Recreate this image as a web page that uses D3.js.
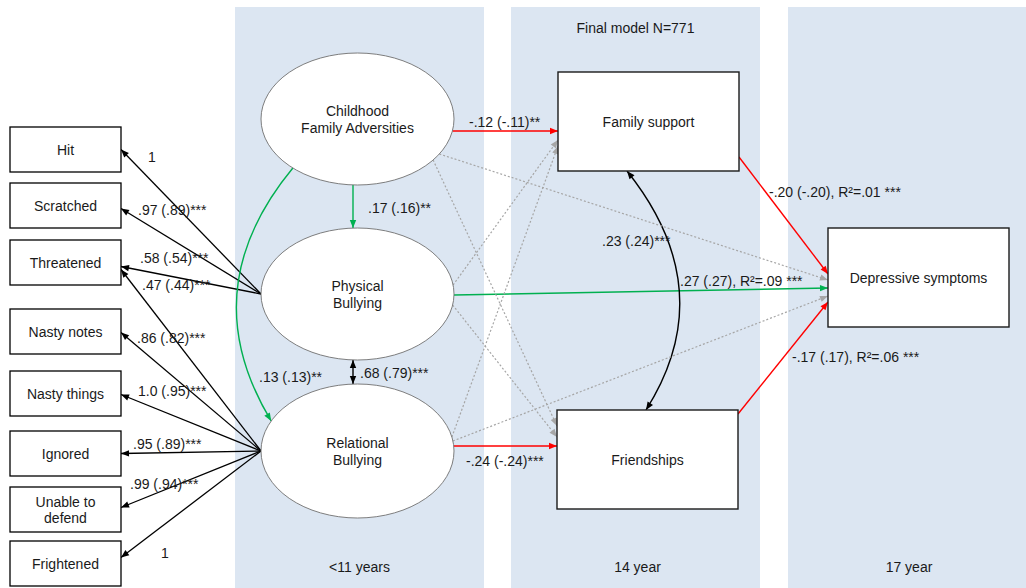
<!DOCTYPE html>
<html>
<head>
<meta charset="utf-8">
<script src="https://cdn.jsdelivr.net/npm/d3@7"></script>
<style>
  body { margin: 0; background: #fff; }
  text { font-family: "Liberation Sans", Arial, sans-serif; font-size: 14px; fill: #1a1a1a; }
</style>
</head>
<body>
<div id="wrapper"></div>
<script>
// ---- data ----
const title = "Final model N=771"
const periods = ["<11 years", "14 year", "17 year"]

const indicators = ["Hit", "Scratched", "Threatened", "Nasty notes", "Nasty things", "Ignored", "Unable to defend", "Frightened"]

// factor loadings: indicator, factor, label
const loadingIndicator = ["Hit", "Scratched", "Threatened", "Threatened", "Nasty notes", "Nasty things", "Ignored", "Unable to defend", "Frightened"]
const loadingFactor = ["PB", "PB", "PB", "RB", "RB", "RB", "RB", "RB", "RB"]
const loadingLabel = ["1", ".97 (.89)***", ".58 (.54)***", ".47 (.44)***", ".86 (.82)***", "1.0 (.95)***", ".95 (.89)***", ".99 (.94)***", "1"]

const latentIds = ["CFA", "PB", "RB"]
const latentNames = [["Childhood", "Family Adversities"], ["Physical", "Bullying"], ["Relational", "Bullying"]]
const observedIds = ["FS", "FR", "DS"]
const observedNames = ["Family support", "Friendships", "Depressive symptoms"]

// structural paths: from, to, label, kind (pos / neg / cov / ns)
const pathFrom  = ["CFA", "CFA", "PB", "CFA", "RB", "PB", "FS", "FR", "FS", "CFA", "CFA", "PB", "PB", "RB", "RB"]
const pathTo    = ["PB", "RB", "RB", "FS", "FR", "DS", "DS", "DS", "FR", "DS", "FR", "FS", "FR", "FS", "DS"]
const pathLabel = [".17 (.16)**", ".13 (.13)**", ".68 (.79)***", "-.12 (-.11)**", "-.24 (-.24)***",
  ".27 (.27), R\u00b2=.09 ***", "-.20 (-.20), R\u00b2=.01 ***", "-.17 (.17), R\u00b2=.06 ***", ".23 (.24)***",
  "", "", "", "", "", ""]
const pathKind  = ["pos", "pos", "cov", "neg", "neg", "pos", "neg", "neg", "cov", "ns", "ns", "ns", "ns", "ns", "ns"]

// ---- layout ----
const width = 1026, height = 588
const bands = [[235, 484], [511, 760], [788, 1026]]
const bandTop = 7
const periodY = 567
const textDy = 1.5

const indBox = { x: 10, w: 111, h: 45 }
const indTop = [127, 183, 240, 309, 371, 431, 487, 541]

const ellipses = {
  CFA: { cx: 357.5, cy: 119, rx: 96.5, ry: 66 },
  PB:  { cx: 357.5, cy: 294, rx: 96.5, ry: 66 },
  RB:  { cx: 357.5, cy: 451, rx: 96.5, ry: 67 }
}
const boxes = {
  FS: { x: 558, y: 72, w: 181, h: 99 },
  FR: { x: 557, y: 410, w: 181, h: 99 },
  DS: { x: 828, y: 228, w: 181, h: 99 }
}

// loading arrow end offsets (y into indicator box) and label anchors
const loadingEndDy = [0, 3, 4, 7, 1, 1, 0, -2, -6]
const loadingLabelPos = [[148, 157], [138, 210], [140, 258], [142, 285], [137, 338], [138, 391], [133, 444], [130, 484], [161, 553]]

// anchors: [side, coordinate] for source and target
const pathAnchors = [
  [["b", 353], ["t", 353]],
  [["l", 168], ["l", 421]],
  [["b", 353], ["t", 353]],
  [["r", 131], ["l", 131]],
  [["r", 446], ["l", 446]],
  [["r", 295], ["l", 288]],
  [["r", 157], ["l", 274]],
  [["r", 414], ["l", 302]],
  [["b", 627], ["t", 646]],
  [["r", 154], ["l", 280]],
  [["r", 160], ["l", 426]],
  [["r", 285], ["l", 140]],
  [["r", 305], ["l", 437]],
  [["r", 437], ["l", 146]],
  [["r", 441], ["l", 296]]
]
const pathCurve = { 1: [192, 290], 8: [722, 290] }
const pathLabelPos = [[368, 208], [259, 377], [360, 373], [469, 122], [466, 461], [680, 281], [769, 192], [792, 357], [602, 241]]

const colors = { pos: "#00b050", neg: "#ff0000", cov: "#000000", ns: "#a6a6a6", load: "#000000" }

// ---- helpers ----
function anchorPoint(id, side, v) {
  if (ellipses[id]) {
    const e = ellipses[id]
    if (side === "l" || side === "r") {
      const t = (v - e.cy) / e.ry
      const dx = e.rx * Math.sqrt(Math.max(0, 1 - t * t))
      return [side === "r" ? e.cx + dx : e.cx - dx, v]
    }
    const t = (v - e.cx) / e.rx
    const dy = e.ry * Math.sqrt(Math.max(0, 1 - t * t))
    return [v, side === "b" ? e.cy + dy : e.cy - dy]
  }
  const b = boxes[id]
  if (side === "l") return [b.x, v]
  if (side === "r") return [b.x + b.w, v]
  if (side === "t") return [v, b.y]
  return [v, b.y + b.h]
}

// ---- drawing ----
const svg = d3.select("#wrapper").append("svg").attr("width", width).attr("height", height)

const defs = svg.append("defs")
Object.entries(colors).forEach(([k, c]) => {
  defs.append("marker")
    .attr("id", "arrow-" + k)
    .attr("viewBox", "0 -5 10 10")
    .attr("refX", 10)
    .attr("refY", 0)
    .attr("markerWidth", k === "ns" ? 9 : 10)
    .attr("markerHeight", 8)
    .attr("markerUnits", "userSpaceOnUse")
    .attr("orient", "auto-start-reverse")
    .append("path")
    .attr("d", "M0,-4L10,0L0,4Z")
    .attr("fill", c)
})

// background bands
svg.append("g").selectAll("rect")
  .data(bands)
  .join("rect")
  .attr("x", d => d[0])
  .attr("y", bandTop)
  .attr("width", d => d[1] - d[0])
  .attr("height", height - bandTop)
  .attr("fill", "#dce6f2")

svg.append("g").selectAll("text")
  .data(periods)
  .join("text")
  .attr("x", (d, i) => (bands[i][0] + bands[i][1]) / 2 + (i === 0 ? 0 : 2))
  .attr("y", periodY + textDy)
  .attr("text-anchor", "middle")
  .attr("dominant-baseline", "middle")
  .text(d => d)

svg.append("text")
  .attr("x", (bands[1][0] + bands[1][1]) / 2)
  .attr("y", 28 + textDy)
  .attr("text-anchor", "middle")
  .attr("dominant-baseline", "middle")
  .text(title)

// indicator y positions
const indY = d3.scaleOrdinal().domain(indicators).range(indTop)

// loading arrows
const lineGen = d3.line()
svg.append("g").selectAll("path")
  .data(loadingIndicator)
  .join("path")
  .attr("d", (d, i) => {
    const src = anchorPoint(loadingFactor[i], "l", ellipses[loadingFactor[i]].cy)
    const tgt = [indBox.x + indBox.w, indY(d) + indBox.h / 2 + loadingEndDy[i]]
    return lineGen([src, tgt])
  })
  .attr("fill", "none")
  .attr("stroke", colors.load)
  .attr("stroke-width", 1.3)
  .attr("marker-end", "url(#arrow-load)")

svg.append("g").selectAll("text")
  .data(loadingLabel)
  .join("text")
  .attr("x", (d, i) => loadingLabelPos[i][0])
  .attr("y", (d, i) => loadingLabelPos[i][1] + textDy)
  .attr("dominant-baseline", "middle")
  .text(d => d)

// indicator boxes
const indG = svg.append("g").selectAll("g")
  .data(indicators)
  .join("g")
indG.append("rect")
  .attr("x", indBox.x)
  .attr("y", d => indY(d))
  .attr("width", indBox.w)
  .attr("height", indBox.h)
  .attr("fill", "#fff")
  .attr("stroke", "#000")
  .attr("stroke-width", 1.3)
indG.each(function (d) {
  const words = d === "Unable to defend" ? ["Unable to", "defend"] : [d]
  d3.select(this).selectAll("text")
    .data(words)
    .join("text")
    .attr("x", indBox.x + indBox.w / 2)
    .attr("y", (w, j) => indY(d) + indBox.h / 2 + textDy + (j - (words.length - 1) / 2) * 16)
    .attr("text-anchor", "middle")
    .attr("dominant-baseline", "middle")
    .text(w => w)
})

// structural paths
const pathG = svg.append("g")
pathFrom.forEach((from, i) => {
  const [sa, ta] = pathAnchors[i]
  const p0 = anchorPoint(from, sa[0], sa[1])
  const p1 = anchorPoint(pathTo[i], ta[0], ta[1])
  const p = d3.path()
  p.moveTo(p0[0], p0[1])
  if (pathCurve[i]) p.quadraticCurveTo(pathCurve[i][0], pathCurve[i][1], p1[0], p1[1])
  else p.lineTo(p1[0], p1[1])
  const kind = pathKind[i]
  const el = pathG.append("path")
    .attr("d", p.toString())
    .attr("fill", "none")
    .attr("stroke", colors[kind])
    .attr("stroke-width", kind === "ns" ? 1.2 : 1.4)
    .attr("marker-end", `url(#arrow-${kind})`)
  if (kind === "ns") el.attr("stroke-dasharray", "2 2")
  if (kind === "cov") el.attr("marker-start", `url(#arrow-${kind})`)
})

// latent ellipses
const latG = svg.append("g").selectAll("g")
  .data(latentIds)
  .join("g")
latG.append("ellipse")
  .attr("cx", d => ellipses[d].cx)
  .attr("cy", d => ellipses[d].cy)
  .attr("rx", d => ellipses[d].rx)
  .attr("ry", d => ellipses[d].ry)
  .attr("fill", "#fff")
  .attr("stroke", "#6f6f6f")
  .attr("stroke-width", 0.9)
latG.each(function (d, i) {
  d3.select(this).selectAll("text")
    .data(latentNames[i])
    .join("text")
    .attr("x", ellipses[d].cx)
    .attr("y", (w, j) => ellipses[d].cy - 8 + textDy + j * 17)
    .attr("text-anchor", "middle")
    .attr("dominant-baseline", "middle")
    .text(w => w)
})

// observed boxes
const obsG = svg.append("g").selectAll("g")
  .data(observedIds)
  .join("g")
obsG.append("rect")
  .attr("x", d => boxes[d].x)
  .attr("y", d => boxes[d].y)
  .attr("width", d => boxes[d].w)
  .attr("height", d => boxes[d].h)
  .attr("fill", "#fff")
  .attr("stroke", "#1a1a1a")
  .attr("stroke-width", 1.4)
obsG.append("text")
  .attr("x", d => boxes[d].x + boxes[d].w / 2)
  .attr("y", d => boxes[d].y + boxes[d].h / 2 + textDy)
  .attr("text-anchor", "middle")
  .attr("dominant-baseline", "middle")
  .text((d, i) => observedNames[i])

// path labels
svg.append("g").selectAll("text")
  .data(pathLabel.filter(d => d !== ""))
  .join("text")
  .attr("x", (d, i) => pathLabelPos[i][0])
  .attr("y", (d, i) => pathLabelPos[i][1] + textDy)
  .attr("dominant-baseline", "middle")
  .text(d => d)
</script>
</body>
</html>
